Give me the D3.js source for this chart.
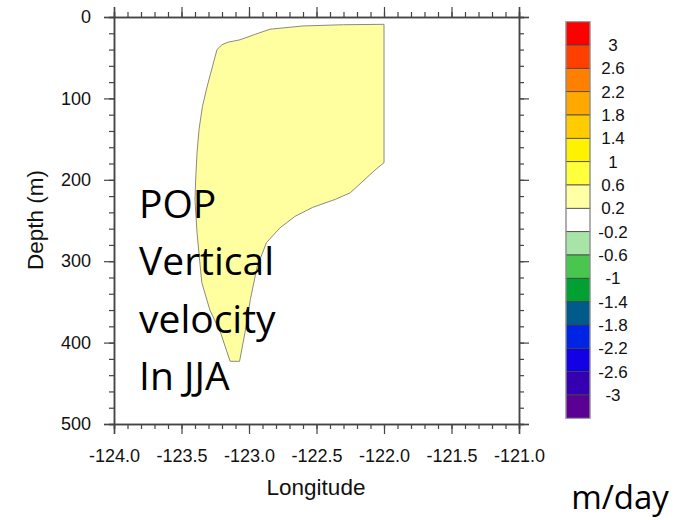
<!DOCTYPE html>
<html>
<head>
<meta charset="utf-8">
<script src="https://cdn.jsdelivr.net/npm/d3@7"></script>
<style>
  body { margin: 0; background: #fff; }
  svg { display: block; }
</style>
</head>
<body>
<svg id="svg1" width="683" height="520"></svg>
<script>
// axis ticks
var lonTicks = [-124.0, -123.5, -123.0, -122.5, -122.0, -121.5, -121.0];
var depthTicks = [0, 100, 200, 300, 400, 500];

// colour bar levels (label between boxes) and box colours, top to bottom
var levels = [3, 2.6, 2.2, 1.8, 1.4, 1, 0.6, 0.2, -0.2, -0.6, -1, -1.4, -1.8, -2.2, -2.6, -3];
var boxColors = ['#ff0000', '#ff3f00', '#ff7f00', '#ffa900', '#ffcc00', '#fff200', '#ffff3c', '#ffffa6',
                 '#ffffff', '#a8e4a8', '#48c64e', '#00a032', '#005a8a', '#0024e4', '#1400e4', '#3400b2', '#5a0094'];

// outline of the 0.2..0.6 region (longitude, depth in m)
var shapeLon   = [-122.0, -122.0, -122.06, -122.25, -122.36, -122.53, -122.66, -122.77, -122.87, -122.94, -122.99, -123.03, -123.07,
                  -123.14, -123.21, -123.29, -123.35, -123.385, -123.40, -123.395, -123.385, -123.37, -123.345, -123.311,
                  -123.237, -123.20, -123.156, -123.067, -122.95, -122.844, -122.6, -122.3];
var shapeDepth = [9, 179, 187, 216, 224, 234, 245, 259, 277, 307, 347, 388, 423,
                  423, 388, 360, 326, 265, 225, 200, 167, 138, 110, 86,
                  40, 34, 31, 28, 21, 15, 11, 9.5];
var shapeFill = '#ffffa0';

var overlayLines = ['POP', 'Vertical', 'velocity', 'In JJA'];

window.onload = function(){
  var svg1 = d3.select('#svg1');

  var x = d3.scaleLinear().domain([-124, -121]).range([114, 519]);
  var y = d3.scaleLinear().domain([0, 500]).range([17, 424]);

  // filled region
  var pts = shapeLon.map(function(d, i){ return [d, shapeDepth[i]]; });
  var line = d3.line()
    .x(function(d){ return x(d[0]); })
    .y(function(d){ return y(d[1]); })
    .curve(d3.curveLinearClosed);
  svg1.append('path')
    .attr('d', line(pts))
    .attr('fill', shapeFill)
    .attr('stroke', '#8a8a80')
    .attr('stroke-width', 1)
    .attr('stroke-linejoin', 'round');

  var minorLon = d3.range(-124, -120.95, 0.1).map(function(d){ return +d.toFixed(1); });
  var minorDepth = d3.range(0, 501, 20);

  function styleAxis(g){
    g.selectAll('path').attr('stroke', '#444').attr('stroke-width', 1.5);
    g.selectAll('line').attr('stroke', '#444').attr('stroke-width', 1.2);
    g.selectAll('text').attr('fill', '#111')
      .style('font-family', '"Liberation Sans", Arial, sans-serif').style('font-size', '18px');
  }

  // minor ticks
  var axes = [
    [d3.axisBottom(x), 'translate(0,424)', minorLon],
    [d3.axisTop(x), 'translate(0,17)', minorLon],
    [d3.axisLeft(y), 'translate(114,0)', minorDepth],
    [d3.axisRight(y), 'translate(519,0)', minorDepth]
  ];
  axes.forEach(function(a){
    var g = svg1.append('g').attr('transform', a[1])
      .call(a[0].tickValues(a[2]).tickSize(5).tickFormat(''));
    styleAxis(g);
  });

  // major ticks
  var gb = svg1.append('g').attr('transform', 'translate(0,424)')
    .call(d3.axisBottom(x).tickValues(lonTicks).tickSize(10).tickPadding(15).tickFormat(d3.format('.1f')));
  styleAxis(gb);
  gb.selectAll('text').text(function(d){ return d3.format('.1f')(d).replace('\u2212', '-'); });

  var gt = svg1.append('g').attr('transform', 'translate(0,17)')
    .call(d3.axisTop(x).tickValues(lonTicks).tickSize(10).tickFormat(''));
  styleAxis(gt);

  var gl = svg1.append('g').attr('transform', 'translate(114,0)')
    .call(d3.axisLeft(y).tickValues(depthTicks).tickSize(10).tickPadding(13));
  styleAxis(gl);

  var gr = svg1.append('g').attr('transform', 'translate(519,0)')
    .call(d3.axisRight(y).tickValues(depthTicks).tickSize(10).tickFormat(''));
  styleAxis(gr);

  // axis titles
  svg1.append('text')
    .attr('x', 316).attr('y', 495)
    .attr('text-anchor', 'middle')
    .style('font-family', '"Liberation Sans", Arial, sans-serif').style('font-size', '22.5px')
    .attr('fill', '#111')
    .text('Longitude');

  svg1.append('text')
    .attr('transform', 'translate(43,220) rotate(-90)')
    .attr('text-anchor', 'middle')
    .style('font-family', '"Liberation Sans", Arial, sans-serif').style('font-size', '22.5px')
    .attr('fill', '#111')
    .text('Depth (m)');

  // colour bar
  var cb = d3.scaleLinear().domain([0, boxColors.length]).range([21.7, 418.3]);
  svg1.selectAll('rect.box')
    .data(boxColors)
    .enter()
    .append('rect')
    .attr('class', 'box')
    .attr('x', 566)
    .attr('y', function(d, i){ return cb(i); })
    .attr('width', 24)
    .attr('height', function(d, i){ return cb(i + 1) - cb(i); })
    .attr('fill', function(d){ return d; })
    .attr('stroke', '#444')
    .attr('stroke-width', 0.8);
  svg1.append('rect')
    .attr('x', 566).attr('y', cb(0)).attr('width', 24).attr('height', cb(boxColors.length) - cb(0))
    .attr('fill', 'none').attr('stroke', '#aaa').attr('stroke-width', 1);

  svg1.selectAll('text.lev')
    .data(levels)
    .enter()
    .append('text')
    .attr('class', 'lev')
    .attr('x', 613)
    .attr('y', function(d, i){ return cb(i + 1); })
    .attr('dy', '0.36em')
    .attr('text-anchor', 'middle')
    .style('font-family', '"Liberation Sans", Arial, sans-serif').style('font-size', '17px')
    .attr('fill', '#111')
    .text(function(d){ return String(d); });

  svg1.append('text')
    .attr('x', 620).attr('y', 509)
    .attr('text-anchor', 'middle')
    .style('font-family', '"Open Sans", sans-serif').style('font-size', '33px')
    .attr('fill', '#000')
    .text('m/day');

  // overlay label
  svg1.selectAll('text.over')
    .data(overlayLines)
    .enter()
    .append('text')
    .attr('class', 'over')
    .attr('x', 139)
    .attr('y', function(d, i){ return 218 + i * 57.3; })
    .style('font-family', '"Open Sans", sans-serif').style('font-size', '39px')
    .attr('fill', '#000')
    .text(function(d){ return d; });
};
</script>
</body>
</html>
